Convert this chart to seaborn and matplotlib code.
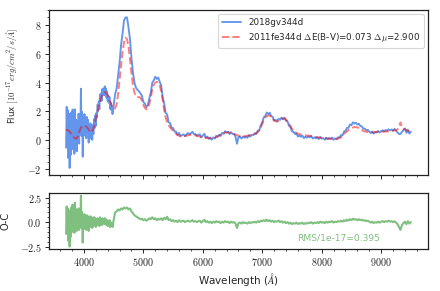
import numpy as np
import pandas as pd
import matplotlib
matplotlib.use("Agg")
import matplotlib.pyplot as plt
from matplotlib.ticker import AutoMinorLocator, FuncFormatter
import seaborn as sns

# ---------------- data ----------------
# wavelength samples: 10 A steps in the blue, 25 A steps beyond 4500 A
wave_blue = np.arange(3700, 4500, 10)
wave_red = np.arange(4500, 9501, 25)

# 2011fe template flux (1e-17 erg/cm2/s/A), smooth model
model_blue = [
    0.70, 0.72, 0.72, 0.70, 0.68, 0.65, 0.60, 0.55, 0.50, 0.45,
    0.40, 0.34, 0.28, 0.22, 0.18, 0.15, 0.13, 0.12, 0.15, 0.22,
    0.32, 0.45, 0.58, 0.70, 0.80, 0.88, 0.93, 0.96, 0.98, 1.00,
    1.02, 1.02, 1.00, 0.98, 0.95, 0.92, 0.88, 0.82, 0.75, 0.68,
    0.62, 0.58, 0.56, 0.58, 0.64, 0.72, 0.84, 0.98, 1.15, 1.32,
    1.50, 1.70, 1.90, 2.08, 2.25, 2.40, 2.55, 2.68, 2.82, 2.95,
    3.05, 3.15, 3.22, 3.28, 3.32, 3.34, 3.33, 3.30, 3.25, 3.18,
    3.10, 3.00, 2.90, 2.80, 2.70, 2.60, 2.50, 2.40, 2.32, 2.25,
]
model_red = [
    2.22, 2.20, 2.50, 3.20, 4.20, 5.20, 6.10, 6.80, 7.10, 7.00,
    6.50, 5.60, 4.60, 3.80, 3.30, 3.05, 3.00, 3.00, 2.95, 2.75,
    2.45, 2.25, 2.15, 2.20, 2.50, 3.00, 3.50, 3.85, 4.00, 4.05,
    4.00, 3.80, 3.40, 2.80, 2.10, 1.60, 1.25, 1.05, 0.90, 0.78,
    0.66, 0.56, 0.46, 0.38, 0.32, 0.28, 0.26, 0.27, 0.30, 0.33,
    0.36, 0.38, 0.40, 0.40, 0.38, 0.35, 0.32, 0.29, 0.27, 0.25,
    0.23, 0.21, 0.19, 0.17, 0.16, 0.15, 0.15, 0.16, 0.18, 0.22,
    0.27, 0.34, 0.41, 0.47, 0.51, 0.54, 0.55, 0.55, 0.54, 0.52,
    0.49, 0.45, 0.41, 0.37, 0.33, 0.30, 0.28, 0.28, 0.29, 0.31,
    0.33, 0.35, 0.37, 0.40, 0.42, 0.45, 0.50, 0.58, 0.70, 0.90,
    1.15, 1.40, 1.58, 1.68, 1.72, 1.72, 1.62, 1.48, 1.38, 1.32,
    1.30, 1.35, 1.42, 1.48, 1.52, 1.52, 1.45, 1.32, 1.15, 0.98,
    0.82, 0.70, 0.60, 0.52, 0.47, 0.43, 0.40, 0.38, 0.36, 0.35,
    0.34, 0.33, 0.32, 0.30, 0.28, 0.26, 0.24, 0.22, 0.20, 0.19,
    0.18, 0.16, 0.15, 0.14, 0.13, 0.12, 0.11, 0.10, 0.10, 0.09,
    0.10, 0.12, 0.16, 0.22, 0.30, 0.42, 0.56, 0.62, 0.72, 0.80,
    0.85, 0.90, 0.92, 0.92, 0.90, 0.85, 0.80, 0.72, 0.66, 0.62,
    0.60, 0.58, 0.57, 0.56, 0.56, 0.57, 0.58, 0.60, 0.60, 0.60,
    0.60, 0.60, 0.62, 0.62, 0.62, 0.62, 0.64, 0.66, 0.68, 0.70,
    0.72, 0.75, 0.95, 1.25, 0.90, 0.80, 0.78, 0.72, 0.65, 0.62,
    0.60,
]

# observed minus template residuals (O-C)
resid_blue = [
    -1.2, 1.6, -0.8, 1.4, -1.9, 1.2, -2.5, 0.9, -1.5, 1.5,
    -1.0, 1.8, -0.6, 1.2, -1.1, 2.0, -0.4, 1.3, -0.9, 1.1,
    -0.5, 1.4, -0.8, 0.9, -0.3, 2.7, -0.6, 1.0, -2.1, 0.6,
    -0.7, 0.8, -0.4, 0.5, -0.8, 0.7, -0.3, 0.6, -0.9, 0.4,
    -0.5, 0.6, -0.2, 0.5, -0.6, 0.3, -0.4, 0.5, -0.3, 0.4,
    -0.5, 0.2, -0.3, 0.4, -0.2, 0.3, -0.4, 0.5, -0.1, 0.3,
    -0.3, 0.4, 0.0, 0.3, -0.2, 0.4, -0.1, 0.3, -0.3, 0.2,
    -0.4, 0.1, -0.3, 0.2, -0.5, 0.0, -0.4, -0.1, -0.5, -0.2,
]
resid_red = [
    0.2, 1.0, 1.1, 1.3, 1.2, 1.4, 1.3, 1.5, 1.4, 1.5,
    1.3, 1.4, 1.1, 0.9, 0.7, 0.6, 0.5, 0.4, 0.3, 0.35,
    0.2, 0.3, 0.15, 0.25, 0.4, 0.3, 0.5, 0.3, 0.4, 0.2,
    0.35, 0.25, 0.4, 0.2, 0.45, 0.3, 0.55, 0.2, 0.3, 0.1,
    0.2, 0.05, 0.15, 0.0, 0.2, 0.05, 0.1, 0.15, 0.0, 0.1,
    0.15, 0.05, 0.1, 0.2, 0.05, 0.1, 0.0, 0.1, 0.15, -0.05,
    0.1, 0.25, 0.0, 0.1, -0.05, 0.05, -0.1, 0.05, -0.05, 0.1,
    0.0, 0.05, -0.1, 0.05, -0.05, 0.1, 0.0, 0.05, -0.1, 0.05,
    -0.05, 0.0, -0.15, -0.6, -0.1, -0.05, -0.15, 0.0, -0.1, -0.05,
    -0.15, 0.0, -0.1, 0.0, -0.05, 0.05, -0.05, 0.1, 0.0, 0.15,
    0.1, 0.2, 0.1, 0.25, 0.1, 0.2, 0.05, 0.15, 0.0, 0.1,
    0.05, 0.15, 0.0, 0.1, -0.05, 0.05, -0.1, 0.0, -0.15, -0.05,
    -0.2, -0.1, -0.15, -0.05, -0.2, -0.1, -0.15, -0.05, -0.2, -0.1,
    -0.15, -0.05, -0.1, 0.0, -0.15, -0.05, -0.1, 0.0, -0.1, 0.05,
    -0.05, 0.0, -0.1, 0.05, -0.05, 0.05, 0.0, 0.1, -0.05, 0.05,
    0.0, 0.1, 0.05, 0.15, 0.05, 0.2, 0.1, 0.25, 0.15, 0.3,
    0.2, 0.35, 0.25, 0.3, 0.2, 0.3, 0.2, 0.25, 0.15, 0.2,
    0.1, 0.15, 0.05, -0.05, 0.05, -0.1, 0.0, -0.05, 0.05, -0.05,
    0.05, 0.1, 0.0, 0.1, 0.05, 0.15, 0.05, 0.1, 0.0, 0.1,
    -0.05, -0.2, -0.5, -0.8, -0.3, -0.1, 0.05, -0.2, 0.1, -0.15,
    0.0,
]

obs_label = "2018gv344d"
model_label = r"2011fe344d $\Delta$E(B-V)=0.073 $\Delta\mu$=2.900"
rms_label = "RMS/1e-17=0.395"

wave = np.concatenate([wave_blue, wave_red])
model = np.array(model_blue + model_red)
resid = np.array(resid_blue + resid_red)
observed = model + resid

df = pd.DataFrame({"wave": wave, "observed": observed, "model": model, "resid": resid})

# ---------------- style ----------------
sns.set_style("ticks")
plt.rcParams.update({
    "font.family": ["DejaVu Sans"],
    "mathtext.fontset": "cm",
    "xtick.direction": "out",
    "ytick.direction": "out",
    "xtick.major.size": 3,
    "ytick.major.size": 3,
    "xtick.minor.size": 1.6,
    "ytick.minor.size": 1.6,
    "xtick.major.width": 0.7,
    "ytick.major.width": 0.7,
    "xtick.minor.width": 0.6,
    "ytick.minor.width": 0.6,
    "xtick.major.pad": 2,
    "ytick.major.pad": 2,
    "axes.edgecolor": "#222222",
    "axes.linewidth": 0.9,
})

fig = plt.figure(figsize=(4.4, 2.91), dpi=100)
ax1 = fig.add_axes([0.111, 0.397, 0.862, 0.569])
ax2 = fig.add_axes([0.111, 0.144, 0.862, 0.192], sharex=ax1)

sns.lineplot(data=df, x="wave", y="observed", ax=ax1, color="cornflowerblue",
             lw=1.35, estimator=None, sort=False, label=obs_label)
sns.lineplot(data=df, x="wave", y="model", ax=ax1, color="red", alpha=0.5,
             lw=1.4, ls="--", estimator=None, sort=False, label=model_label)
sns.lineplot(data=df, x="wave", y="resid", ax=ax2, color="green", alpha=0.5,
             lw=1.5, estimator=None, sort=False)

ax1.set_xlabel("")
ax1.set_ylabel(r"Flux $[10^{-17} erg/cm^2/s/\AA]$", fontsize=6.2)
ax1.yaxis.set_label_coords(-0.076, 0.60)
ax2.set_ylabel("O-C", fontsize=7)
ax2.yaxis.set_label_coords(-0.102, 0.5)
ax2.set_xlabel(r"Wavelength ($\AA$)", fontsize=7.5, labelpad=2)

ax1.tick_params(labelbottom=False)
for ax in (ax1, ax2):
    ax.xaxis.set_minor_locator(AutoMinorLocator())
    ax.yaxis.set_minor_locator(AutoMinorLocator())
    ax.tick_params(which="both", labelsize=7.3)

ax1.set_yticks([-2, 0, 2, 4, 6, 8])
ax2.set_yticks([-2.5, 0.0, 2.5])
ax1.yaxis.set_major_formatter(FuncFormatter(lambda v, p: f"${v:.0f}$"))
ax2.yaxis.set_major_formatter(FuncFormatter(lambda v, p: f"${v:.1f}$"))
ax2.xaxis.set_major_formatter(FuncFormatter(lambda v, p: f"${v:.0f}$"))

ax2.text(7580, -1.6, rms_label, color="green", alpha=0.5, fontsize=6.6,
         ha="left", va="center")

leg = ax1.legend(loc="upper right", fontsize=6.3, frameon=True,
                 handlelength=2.2, borderaxespad=0.5)
leg.get_frame().set_edgecolor("#cccccc")
leg.get_frame().set_linewidth(0.8)

fig.savefig("out.png", dpi=100)
